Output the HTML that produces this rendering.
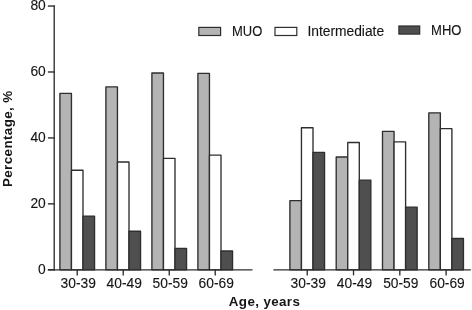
<!DOCTYPE html>
<html><head><meta charset="utf-8"><style>
html,body{margin:0;padding:0;background:#fff;}
svg{display:block;will-change:transform}
.t{font-family:"Liberation Sans",sans-serif;font-size:13.8px;fill:#151515;stroke:#151515;stroke-width:0.12px}
.b{font-family:"Liberation Sans",sans-serif;font-size:13.4px;font-weight:bold;fill:#151515}
</style></head><body>
<svg width="472" height="310" viewBox="0 0 472 310">
<rect width="472" height="310" fill="#fff"/>
<rect x="59.90" y="93.41" width="11.55" height="176.39" fill="#b4b4b4" stroke="#2e2e2e" stroke-width="1.35" stroke-linejoin="round"/>
<rect x="71.45" y="170.23" width="11.55" height="99.57" fill="#ffffff" stroke="#2e2e2e" stroke-width="1.35" stroke-linejoin="round"/>
<rect x="83.00" y="216.06" width="11.55" height="53.74" fill="#4f4f4f" stroke="#2e2e2e" stroke-width="1.35" stroke-linejoin="round"/>
<rect x="105.90" y="86.82" width="11.55" height="182.98" fill="#b4b4b4" stroke="#2e2e2e" stroke-width="1.35" stroke-linejoin="round"/>
<rect x="117.45" y="161.99" width="11.55" height="107.81" fill="#ffffff" stroke="#2e2e2e" stroke-width="1.35" stroke-linejoin="round"/>
<rect x="129.00" y="231.23" width="11.55" height="38.57" fill="#4f4f4f" stroke="#2e2e2e" stroke-width="1.35" stroke-linejoin="round"/>
<rect x="151.90" y="72.97" width="11.55" height="196.83" fill="#b4b4b4" stroke="#2e2e2e" stroke-width="1.35" stroke-linejoin="round"/>
<rect x="163.45" y="158.36" width="11.55" height="111.44" fill="#ffffff" stroke="#2e2e2e" stroke-width="1.35" stroke-linejoin="round"/>
<rect x="175.00" y="248.37" width="11.55" height="21.43" fill="#4f4f4f" stroke="#2e2e2e" stroke-width="1.35" stroke-linejoin="round"/>
<rect x="197.90" y="73.30" width="11.55" height="196.50" fill="#b4b4b4" stroke="#2e2e2e" stroke-width="1.35" stroke-linejoin="round"/>
<rect x="209.45" y="155.06" width="11.55" height="114.74" fill="#ffffff" stroke="#2e2e2e" stroke-width="1.35" stroke-linejoin="round"/>
<rect x="221.00" y="251.01" width="11.55" height="18.79" fill="#4f4f4f" stroke="#2e2e2e" stroke-width="1.35" stroke-linejoin="round"/>
<rect x="289.90" y="200.56" width="11.55" height="69.24" fill="#b4b4b4" stroke="#2e2e2e" stroke-width="1.35" stroke-linejoin="round"/>
<rect x="301.45" y="127.70" width="11.55" height="142.10" fill="#ffffff" stroke="#2e2e2e" stroke-width="1.35" stroke-linejoin="round"/>
<rect x="313.00" y="152.43" width="11.55" height="117.37" fill="#4f4f4f" stroke="#2e2e2e" stroke-width="1.35" stroke-linejoin="round"/>
<rect x="336.20" y="157.04" width="11.55" height="112.76" fill="#b4b4b4" stroke="#2e2e2e" stroke-width="1.35" stroke-linejoin="round"/>
<rect x="347.75" y="142.54" width="11.55" height="127.26" fill="#ffffff" stroke="#2e2e2e" stroke-width="1.35" stroke-linejoin="round"/>
<rect x="359.30" y="180.12" width="11.55" height="89.68" fill="#4f4f4f" stroke="#2e2e2e" stroke-width="1.35" stroke-linejoin="round"/>
<rect x="382.50" y="131.33" width="11.55" height="138.47" fill="#b4b4b4" stroke="#2e2e2e" stroke-width="1.35" stroke-linejoin="round"/>
<rect x="394.05" y="141.88" width="11.55" height="127.92" fill="#ffffff" stroke="#2e2e2e" stroke-width="1.35" stroke-linejoin="round"/>
<rect x="405.60" y="207.16" width="11.55" height="62.64" fill="#4f4f4f" stroke="#2e2e2e" stroke-width="1.35" stroke-linejoin="round"/>
<rect x="428.80" y="112.86" width="11.55" height="156.94" fill="#b4b4b4" stroke="#2e2e2e" stroke-width="1.35" stroke-linejoin="round"/>
<rect x="440.35" y="128.69" width="11.55" height="141.11" fill="#ffffff" stroke="#2e2e2e" stroke-width="1.35" stroke-linejoin="round"/>
<rect x="451.90" y="238.48" width="11.55" height="31.32" fill="#4f4f4f" stroke="#2e2e2e" stroke-width="1.35" stroke-linejoin="round"/>
<line x1="54.2" y1="5.5" x2="54.2" y2="270.4" stroke="#2e2e2e" stroke-width="1.35"/>
<line x1="47.9" y1="269.8" x2="54.8" y2="269.8" stroke="#2e2e2e" stroke-width="1.4"/>
<text x="45.8" y="273.90000000000003" text-anchor="end" class="t">0</text>
<line x1="47.9" y1="203.86" x2="54.8" y2="203.86" stroke="#2e2e2e" stroke-width="1.4"/>
<text x="45.8" y="207.96" text-anchor="end" class="t">20</text>
<line x1="47.9" y1="137.92000000000002" x2="54.8" y2="137.92000000000002" stroke="#2e2e2e" stroke-width="1.4"/>
<text x="45.8" y="142.02" text-anchor="end" class="t">40</text>
<line x1="47.9" y1="71.97999999999999" x2="54.8" y2="71.97999999999999" stroke="#2e2e2e" stroke-width="1.4"/>
<text x="45.8" y="76.07999999999998" text-anchor="end" class="t">60</text>
<line x1="47.9" y1="6.0400000000000205" x2="54.8" y2="6.0400000000000205" stroke="#2e2e2e" stroke-width="1.4"/>
<text x="45.8" y="10.14000000000002" text-anchor="end" class="t">80</text>
<line x1="47.9" y1="269.8" x2="252.5" y2="269.8" stroke="#2e2e2e" stroke-width="1.35"/>
<line x1="273.4" y1="269.8" x2="470.8" y2="269.8" stroke="#2e2e2e" stroke-width="1.35"/>
<line x1="77.22" y1="269.8" x2="77.22" y2="275.40000000000003" stroke="#2e2e2e" stroke-width="1.35"/>
<text x="78.22" y="287.8" text-anchor="middle" class="t">30-39</text>
<line x1="123.23" y1="269.8" x2="123.23" y2="275.40000000000003" stroke="#2e2e2e" stroke-width="1.35"/>
<text x="124.23" y="287.8" text-anchor="middle" class="t">40-49</text>
<line x1="169.23" y1="269.8" x2="169.23" y2="275.40000000000003" stroke="#2e2e2e" stroke-width="1.35"/>
<text x="170.23" y="287.8" text-anchor="middle" class="t">50-59</text>
<line x1="215.23" y1="269.8" x2="215.23" y2="275.40000000000003" stroke="#2e2e2e" stroke-width="1.35"/>
<text x="216.23" y="287.8" text-anchor="middle" class="t">60-69</text>
<line x1="307.22" y1="269.8" x2="307.22" y2="275.40000000000003" stroke="#2e2e2e" stroke-width="1.35"/>
<text x="308.22" y="287.8" text-anchor="middle" class="t">30-39</text>
<line x1="353.52" y1="269.8" x2="353.52" y2="275.40000000000003" stroke="#2e2e2e" stroke-width="1.35"/>
<text x="354.52" y="287.8" text-anchor="middle" class="t">40-49</text>
<line x1="399.82" y1="269.8" x2="399.82" y2="275.40000000000003" stroke="#2e2e2e" stroke-width="1.35"/>
<text x="400.82" y="287.8" text-anchor="middle" class="t">50-59</text>
<line x1="446.12" y1="269.8" x2="446.12" y2="275.40000000000003" stroke="#2e2e2e" stroke-width="1.35"/>
<text x="447.12" y="287.8" text-anchor="middle" class="t">60-69</text>
<rect x="198.8" y="27.4" width="21.8" height="8.1" fill="#b4b4b4" stroke="#2e2e2e" stroke-width="1.2"/>
<text x="232.0" y="36" class="t" textLength="30.3" lengthAdjust="spacingAndGlyphs">MUO</text>
<rect x="275.0" y="27.4" width="21.8" height="8.1" fill="#ffffff" stroke="#2e2e2e" stroke-width="1.2"/>
<text x="307.4" y="36" class="t">Intermediate</text>
<rect x="398.9" y="26.0" width="20.8" height="8.1" fill="#4f4f4f" stroke="#2e2e2e" stroke-width="1.2"/>
<text x="431.1" y="35.1" class="t" textLength="30.4" lengthAdjust="spacingAndGlyphs">MHO</text>
<text x="228.8" y="306" class="b" textLength="71.1" lengthAdjust="spacing">Age, years</text>
<text transform="translate(11.5,187.1) rotate(-90)" class="b" textLength="96.4" lengthAdjust="spacing">Percentage, %</text>
</svg></body></html>
